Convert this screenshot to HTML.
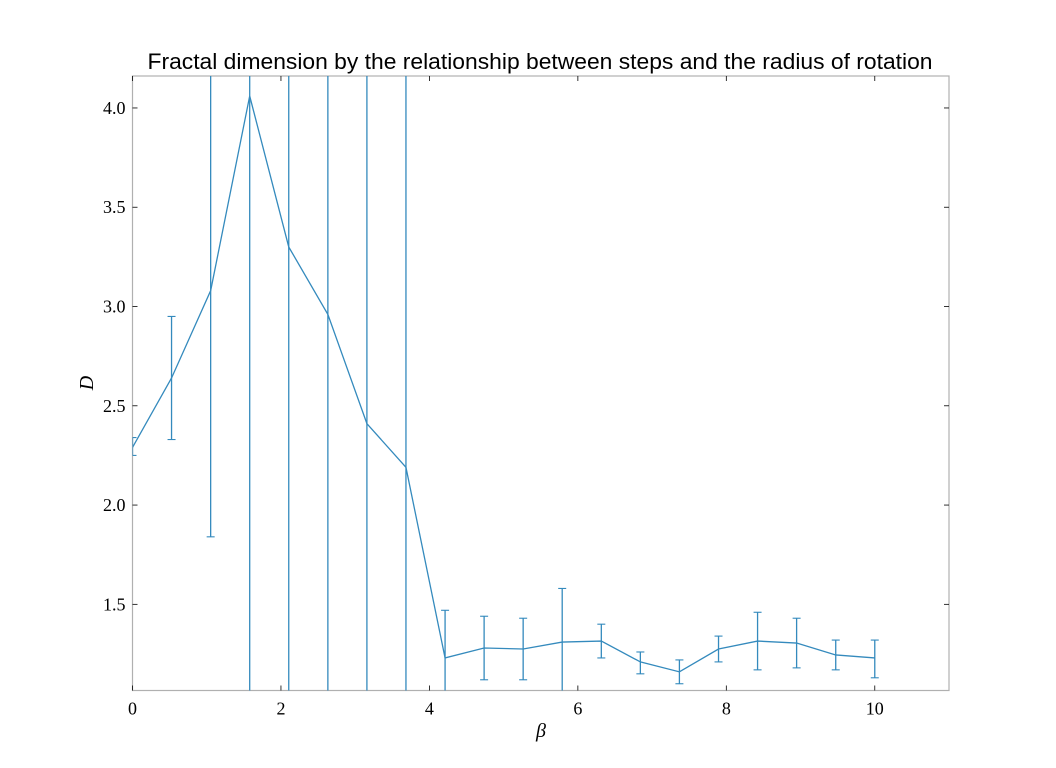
<!DOCTYPE html>
<html><head><meta charset="utf-8"><style>
html,body{margin:0;background:#fff;overflow:hidden;width:1056px;height:768px;}
svg{display:block;}
svg text{font-family:"Liberation Serif",serif;}
</style></head><body>
<svg id="chart" width="1056" height="768" xmlns="http://www.w3.org/2000/svg">
<rect width="1056" height="768" fill="#fff"/>
<text x="540" y="69" text-anchor="middle" font-size="22" textLength="785" lengthAdjust="spacingAndGlyphs" style="font-family:'Liberation Sans',sans-serif">Fractal dimension by the relationship between steps and the radius of rotation</text>
<g id="plot"></g>
<text x="541" y="737" text-anchor="middle" font-size="20" font-style="italic">β</text>
<text transform="translate(93,383) rotate(-90)" text-anchor="middle" font-size="20" font-style="italic">D</text>
</svg>
<script>
const betas=[0,0.526,1.053,1.579,2.105,2.632,3.158,3.684,4.211,4.737,5.263,5.789,6.316,6.842,7.368,7.895,8.421,8.947,9.474,10];
const dValues=[2.29,2.64,3.08,4.06,3.30,2.96,2.41,2.19,1.23,1.28,1.275,1.31,1.315,1.21,1.16,1.275,1.315,1.305,1.245,1.23];
const errLow=[2.25,2.33,1.84,0,0,0,0,0,0.99,1.12,1.12,1.04,1.23,1.15,1.10,1.21,1.17,1.18,1.17,1.13];
const errHigh=[2.34,2.95,4.32,8,6.6,5.9,4.8,4.4,1.47,1.44,1.43,1.58,1.40,1.26,1.22,1.34,1.46,1.43,1.32,1.32];
const xTicks=[0,2,4,6,8,10];
const yTicks=[1.5,2.0,2.5,3.0,3.5,4.0];
const L=132.5,R=949,T=76,B=690.5,xMin=0,xMax=11,yMin=1.066,yMax=4.161;
const sx=v=>L+(v-xMin)/(xMax-xMin)*(R-L);
const sy=v=>B-(v-yMin)/(yMax-yMin)*(B-T);
const NS="http://www.w3.org/2000/svg";
const g=document.getElementById('plot');
function mk(t,a,p){const e=document.createElementNS(NS,t);for(const k in a)e.setAttribute(k,a[k]);(p||g).appendChild(e);return e;}
const clip=mk('clipPath',{id:'cp'});mk('rect',{x:L,y:T,width:R-L,height:B-T},clip);
const frame=mk('rect',{x:L,y:T,width:R-L,height:B-T,fill:'none',stroke:'#b0b0b0','stroke-width':1.2});


xTicks.forEach(v=>{const x=sx(v);
 mk('line',{x1:x,x2:x,y1:B,y2:B-5,stroke:'#000','stroke-width':0.8});
 mk('line',{x1:x,x2:x,y1:T,y2:T+5,stroke:'#000','stroke-width':0.8});
 const t=mk('text',{x:x,y:B+24,'text-anchor':'middle','font-size':18});t.textContent=v;
 
 });
yTicks.forEach(v=>{const y=sy(v);
 mk('line',{x1:L,x2:L+5,y1:y,y2:y,stroke:'#000','stroke-width':0.8});
 mk('line',{x1:R,x2:R-5,y1:y,y2:y,stroke:'#000','stroke-width':0.8});
 const t=mk('text',{x:L-7,y:y+6,'text-anchor':'end','font-size':18});t.textContent=v.toFixed(1);
 
 });
const dg=mk('g',{'clip-path':'url(#cp)'});
betas.forEach((b,i)=>{const x=sx(b);
 const e=mk('line',{x1:x,x2:x,y1:sy(errLow[i]),y2:sy(errHigh[i]),stroke:'#348abd','stroke-width':1.3},dg);
 
 
 [errLow[i],errHigh[i]].forEach(v=>mk('line',{x1:x-4,x2:x+4,y1:sy(v),y2:sy(v),stroke:'#348abd','stroke-width':1.1},dg));});
const pl=mk('polyline',{points:betas.map((b,i)=>sx(b)+','+sy(dValues[i])).join(' '),fill:'none',stroke:'#348abd','stroke-width':1.3},dg);


</script>
</body></html>
